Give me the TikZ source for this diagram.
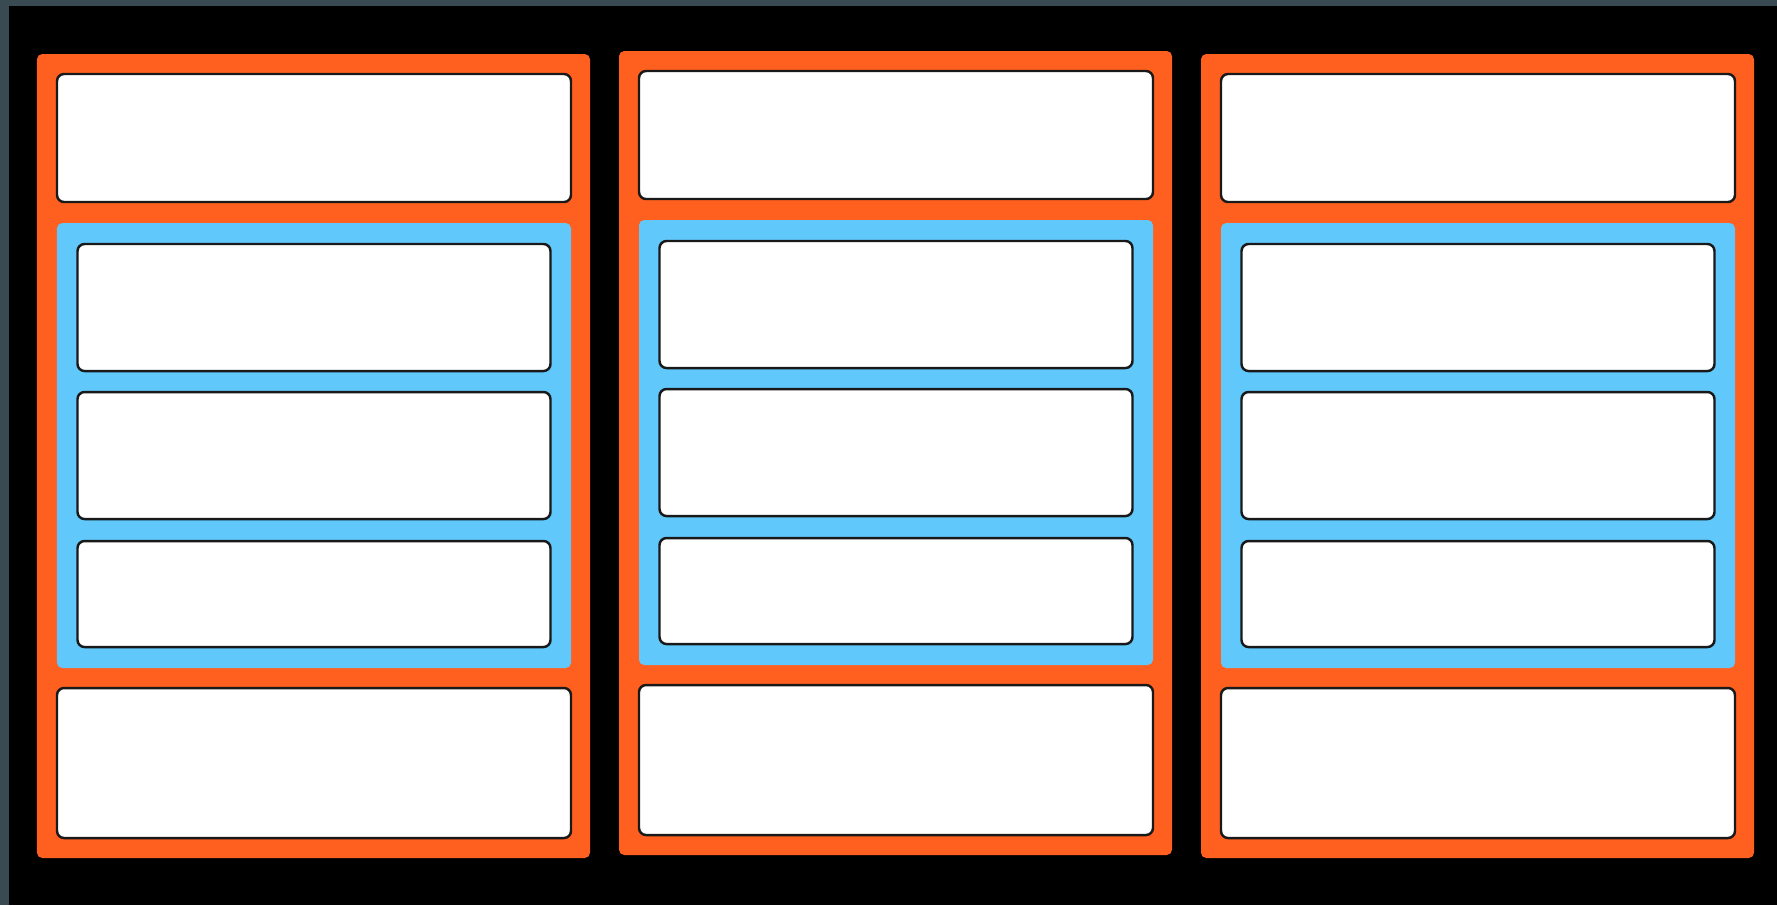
\documentclass[tikz,border=0pt]{standalone}
\usetikzlibrary{positioning}
\definecolor{bgrey}{HTML}{3A4A52}
\definecolor{porange}{HTML}{FF5F1F}
\definecolor{pblue}{HTML}{60C8FB}
\tikzset{
  panel/.style={fill=porange,rounded corners=1.5pt,inner sep=0pt,outer sep=0pt,minimum width=5.53cm,minimum height=8.04cm},
  group/.style={fill=pblue,rounded corners=1.5pt,inner sep=0pt,outer sep=0pt,minimum width=5.14cm,minimum height=4.45cm},
  slot/.style={draw=black!90,fill=white,rounded corners=2pt,line width=0.7pt,inner sep=0pt,outer sep=0pt,minimum width=5.14cm},
  islot/.style={slot,minimum width=4.73cm},
}
\begin{document}
\begin{tikzpicture}
  % backdrop
  \fill[bgrey] (0,0) rectangle (17.77,-9.05);
  \fill[black] (0.09,-0.06) rectangle (17.77,-9.05);
  % three panels
  \foreach \i/\L/\T in {1/0.37/0.54,2/6.19/0.51,3/12.01/0.54} {
    \node[panel,anchor=north west] (p\i) at (\L,-\T) {};
    \node[slot,minimum height=1.28cm,below right=0.2cm and 0.2cm of p\i.north west] (p\i h) {};
    \node[group,below=0.21cm of p\i h] (p\i g) {};
    \node[islot,minimum height=1.27cm,below=0.21cm of p\i g.north] (p\i a) {};
    \node[islot,minimum height=1.27cm,below=0.21cm of p\i a] (p\i b) {};
    \node[islot,minimum height=1.06cm,below=0.22cm of p\i b] (p\i c) {};
    \node[slot,minimum height=1.5cm,below=0.2cm of p\i g] (p\i f) {};
  }
\end{tikzpicture}
\end{document}
